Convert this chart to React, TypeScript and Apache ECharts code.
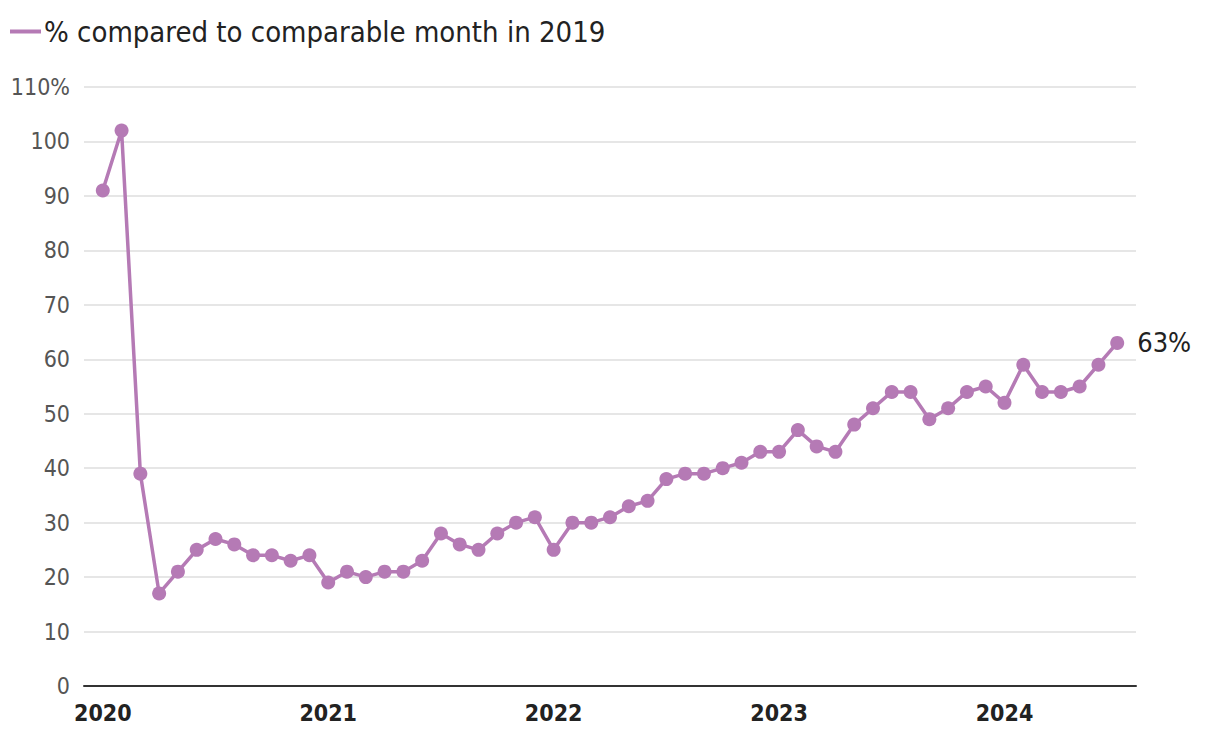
import React, { useEffect, useRef } from "react";
import * as echarts from "echarts";

const yearLabels = ["2020", "2021", "2022", "2023", "2024"];
const values = [
  91, 102, 39, 17, 21, 25, 27, 26, 24, 24, 23, 24,
  19, 21, 20, 21, 21, 23, 28, 26, 25, 28, 30, 31,
  25, 30, 30, 31, 33, 34, 38, 39, 39, 40, 41, 43,
  43, 47, 44, 43, 48, 51, 54, 54, 49, 51, 54, 55,
  52, 59, 54, 54, 55, 59, 63,
];
const seriesName = "% compared to comparable month in 2019";
const yTicks = [0, 10, 20, 30, 40, 50, 60, 70, 80, 90, 100, 110];

const FONT = "'Liberation Sans Narrow', 'DejaVu Sans Condensed', 'Roboto', sans-serif";
const COLOR = "#b57ab5";

export default function App() {
  const ref = useRef<HTMLDivElement>(null);
  useEffect(() => {
    if (!ref.current) return;
    const chart = echarts.init(ref.current, null, { renderer: "svg" });
    const data = values.map((v, i) => [i, v]);
    const last = data[data.length - 1];
    chart.setOption({
      animation: false,
      textStyle: { fontFamily: FONT },
      legend: {
        left: 5,
        top: 12,
        itemWidth: 31,
        itemHeight: 4,
        icon: "rect",
        itemGap: 6,
        textStyle: { fontSize: 29, color: "#222", fontFamily: FONT, padding: [0, 0, 0, -2] },
        data: [{ name: seriesName, itemStyle: { color: COLOR } }],
      },
      grid: { left: 84, right: 84, top: 87, bottom: 48, containLabel: false },
      xAxis: {
        type: "value",
        min: -1,
        max: 55,
        splitLine: { show: false },
        axisTick: { show: false },
        axisLine: { show: true, onZero: false, lineStyle: { color: "#333", width: 2 } },
        axisLabel: {
          customValues: yearLabels.map((_, i) => i * 12),
          formatter: (v: number) => yearLabels[Math.round(v / 12)] ?? "",
          fontSize: 23,
          fontWeight: "bold",
          color: "#222",
          margin: 15,
          fontFamily: FONT,
        },
      },
      yAxis: {
        type: "value",
        min: 0,
        max: 110,
        interval: 10,
        axisLine: { show: false },
        axisTick: { show: false },
        splitLine: { lineStyle: { color: "#e6e6e6", width: 2 } },
        axisLabel: {
          fontSize: 23,
          color: "#555",
          margin: 14,
          fontFamily: FONT,
          formatter: (v: number) => (v === yTicks[yTicks.length - 1] ? v + "%" : String(v)),
        },
      },
      series: [
        {
          name: seriesName,
          type: "line",
          data,
          symbol: "circle",
          symbolSize: 14,
          lineStyle: { color: COLOR, width: 3.5 },
          itemStyle: { color: COLOR },
          markPoint: {
            symbol: "circle",
            symbolSize: 0,
            data: [
              {
                coord: last,
                value: last[1],
                label: {
                  show: true,
                  position: "right",
                  distance: 20,
                  formatter: () => last[1] + "%",
                  fontSize: 27,
                  color: "#222",
                  fontFamily: FONT,
                },
              },
            ],
          },
        },
      ],
    });
    return () => chart.dispose();
  }, []);
  return <div ref={ref} style={{ width: 1220, height: 734, position: "absolute", left: 0, top: 0 }} />;
}
